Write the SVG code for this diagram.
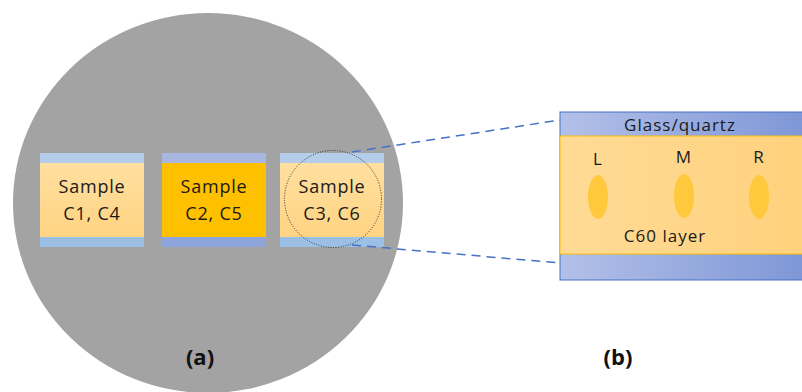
<svg xmlns="http://www.w3.org/2000/svg" width="802" height="392" viewBox="0 0 802 392">
<defs>
<linearGradient id="lo" x1="0" y1="0" x2="0" y2="1"><stop offset="0" stop-color="#ffe1a4"/><stop offset="1" stop-color="#ffd27e"/></linearGradient>
<linearGradient id="bl" x1="0" y1="0" x2="1" y2="0"><stop offset="0" stop-color="#b3c0e8"/><stop offset="1" stop-color="#7d96d6"/></linearGradient>
<linearGradient id="or" x1="0" y1="0" x2="1" y2="0"><stop offset="0" stop-color="#ffdb96"/><stop offset="1" stop-color="#ffd17c"/></linearGradient>
<style>
.t{font-family:"Open Sans","Liberation Sans",sans-serif;font-size:18px;letter-spacing:0.8px;fill:#1a1a1a;text-anchor:middle}
.s{font-family:"Open Sans","Liberation Sans",sans-serif;font-size:17px;letter-spacing:1px;fill:#1a1a1a;text-anchor:middle}
.lab{font-family:"Open Sans","Liberation Sans",sans-serif;font-size:22px;font-weight:bold;fill:#111;text-anchor:middle}
.dash{stroke:#4472c4;stroke-width:1.5;stroke-dasharray:9,6;fill:none}
.spot{fill:#ffc83d}
</style>
</defs>
<ellipse id="wafer" cx="208" cy="203" rx="195" ry="190" fill="#a3a3a3"/>
<g id="sample1">
<rect x="40" y="153" width="104" height="94" fill="url(#lo)"/>
<rect x="40" y="153" width="104" height="10" fill="#b4cde9"/>
<rect x="40" y="237" width="104" height="10" fill="#9cbfe6"/>
<text class="t" x="92" y="193">Sample</text>
<text class="t" x="92" y="220">C1, C4</text>
</g>
<g id="sample2">
<rect x="162" y="153" width="104" height="94" fill="#ffc000"/>
<rect x="162" y="153" width="104" height="10" fill="#a8b7e1"/>
<rect x="162" y="237" width="104" height="10" fill="#8ea5dc"/>
<text class="t" x="214" y="193">Sample</text>
<text class="t" x="214" y="220">C2, C5</text>
</g>
<g id="sample3">
<rect x="280" y="153" width="104" height="94" fill="url(#lo)"/>
<rect x="280" y="153" width="104" height="10" fill="#b4cde9"/>
<rect x="280" y="237" width="104" height="10" fill="#9cbfe6"/>
<text class="t" x="332" y="193">Sample</text>
<text class="t" x="332" y="220">C3, C6</text>
<circle cx="333" cy="199" r="48.5" fill="none" stroke="#333" stroke-width="1" stroke-dasharray="1,1.5"/>
</g>
<g id="connectors">
<line class="dash" x1="352" y1="152" x2="560" y2="120"/>
<line class="dash" x1="352" y1="245" x2="560" y2="263"/>
</g>
<g id="zoom">
<rect x="560" y="112" width="250" height="168" fill="url(#bl)" stroke="#4472c4" stroke-width="1"/>
<rect x="560" y="136" width="250" height="118" fill="url(#or)" stroke="#ffc000" stroke-width="1"/>
<text class="s" x="680" y="131">Glass/quartz</text>
<text class="s" x="598" y="165">L</text>
<text class="s" x="684" y="163">M</text>
<text class="s" x="759" y="163">R</text>
<ellipse class="spot" cx="598" cy="197" rx="10" ry="22"/>
<ellipse class="spot" cx="684" cy="196" rx="10" ry="22"/>
<ellipse class="spot" cx="759" cy="197" rx="10" ry="22"/>
<text class="s" x="665" y="242">C60 layer</text>
</g>
<text class="lab" x="200" y="365">(a)</text>
<text class="lab" x="618" y="365">(b)</text>
</svg>
